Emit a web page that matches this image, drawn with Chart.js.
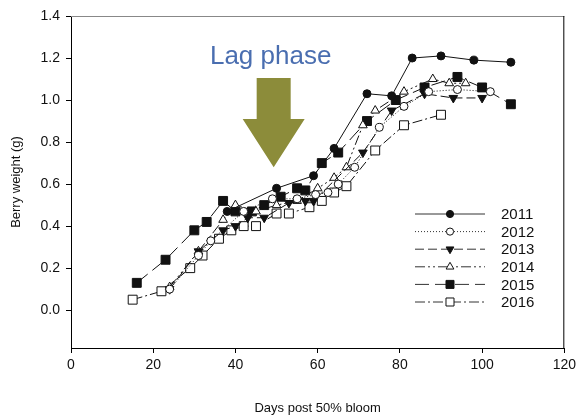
<!DOCTYPE html>
<html lang="en">
<head>
<meta charset="UTF-8">
<title>Berry weight</title>
<script src="https://cdn.jsdelivr.net/npm/chart.js@4.4.1/dist/chart.umd.min.js"></script>
<style>
  html, body { margin: 0; padding: 0; background: #fff; }
  #wrap { width: 580px; height: 420px; }
</style>
</head>
<body>
<div id="wrap"><canvas id="berryChart" width="580" height="420"></canvas></div>
<script>
// values (days post bloom, berry weight g)
const years = ['2011', '2012', '2013', '2014', '2015', '2016'];

const days2011 = [38, 50, 59, 64, 72, 78, 83, 90, 98, 107];
const wt2011   = [0.47, 0.58, 0.64, 0.77, 1.03, 1.02, 1.20, 1.21, 1.19, 1.18];

const days2012 = [24, 31, 34, 42, 49, 55, 59.5, 62.5, 65, 69, 75, 81, 87, 94, 102];
const wt2012   = [0.10, 0.26, 0.33, 0.47, 0.53, 0.53, 0.55, 0.56, 0.60, 0.68, 0.87, 0.97, 1.04, 1.05, 1.04];

const days2013 = [24, 31, 37, 40, 43, 47, 53, 57, 59, 71, 78, 86, 93, 100];
const wt2013   = [0.10, 0.28, 0.38, 0.40, 0.44, 0.44, 0.51, 0.52, 0.52, 0.75, 0.95, 1.03, 1.01, 1.01];

const days2014 = [24, 31, 37, 40, 45, 50, 55, 60, 64, 67, 71, 74, 81, 88, 92, 96];
const wt2014   = [0.11, 0.28, 0.43, 0.50, 0.47, 0.50, 0.52, 0.58, 0.63, 0.68, 0.88, 0.95, 1.04, 1.10, 1.08, 1.08];

const days2015 = [16, 23, 30, 33, 37, 40, 44, 47, 51, 55, 57, 61, 65, 72, 79, 86, 94, 100, 107];
const wt2015   = [0.13, 0.24, 0.38, 0.42, 0.52, 0.47, 0.47, 0.50, 0.54, 0.58, 0.57, 0.70, 0.75, 0.90, 1.00, 1.06, 1.11, 1.06, 0.98];

const days2016 = [15, 22, 29, 32, 36, 39, 42, 45, 50, 53, 58, 61, 64, 67, 74, 81, 90];
const wt2016   = [0.05, 0.09, 0.20, 0.26, 0.34, 0.38, 0.40, 0.40, 0.46, 0.46, 0.49, 0.52, 0.56, 0.59, 0.76, 0.88, 0.93];

const xTicks = [0, 20, 40, 60, 80, 100, 120];
const yTicks = [0, 0.2, 0.4, 0.6, 0.8, 1.0, 1.2, 1.4];

function pts(d, w) { return d.map((x, i) => ({ x: x, y: w[i] })); }

const ink = '#111';
const styles = [
  { dash: [],                  style: 'circle',   rot: 0,   fill: ink,    r: 4 },
  { dash: [1, 2],              style: 'circle',   rot: 0,   fill: '#fff', r: 4 },
  { dash: [9, 4],              style: 'triangle', rot: 180, fill: ink,    r: 5 },
  { dash: [10, 3, 2, 3, 2, 3], style: 'triangle', rot: 0,   fill: '#fff', r: 5 },
  { dash: [14, 6],             style: 'rect',     rot: 0,   fill: ink,    r: 6.3 },
  { dash: [10, 3, 2, 3],       style: 'rect',     rot: 0,   fill: '#fff', r: 6.3 }
];
const series = [pts(days2011, wt2011), pts(days2012, wt2012), pts(days2013, wt2013),
                pts(days2014, wt2014), pts(days2015, wt2015), pts(days2016, wt2016)];

const datasets = years.map((y, i) => ({
  label: y,
  data: series[i],
  borderColor: ink,
  borderWidth: 1,
  borderDash: styles[i].dash,
  pointStyle: styles[i].style,
  pointRotation: styles[i].rot,
  pointRadius: styles[i].r,
  pointBackgroundColor: styles[i].fill,
  pointBorderColor: ink,
  pointBorderWidth: 1,
  fill: false,
  tension: 0
}));

// frame, arrow annotation and legend
const extras = {
  id: 'extras',
  afterDraw(chart) {
    const ctx = chart.ctx;
    const a = chart.chartArea;
    const xs = chart.scales.x, ys = chart.scales.y;
    ctx.save();
    // top and right border
    ctx.lineWidth = 1;
    ctx.strokeStyle = '#888';
    ctx.beginPath(); ctx.moveTo(a.left, a.top + 0.5); ctx.lineTo(a.right, a.top + 0.5); ctx.stroke();
    ctx.strokeStyle = '#000';
    ctx.beginPath(); ctx.moveTo(a.right - 0.5, a.top); ctx.lineTo(a.right - 0.5, a.bottom); ctx.stroke();

    // lag phase arrow
    const cx = xs.getPixelForValue(49.3);
    const yTop = ys.getPixelForValue(1.105);
    const yNeck = ys.getPixelForValue(0.91);
    const yTip = ys.getPixelForValue(0.68);
    ctx.fillStyle = '#8c8c3a';
    ctx.beginPath();
    ctx.moveTo(cx - 17, yTop);
    ctx.lineTo(cx + 17, yTop);
    ctx.lineTo(cx + 17, yNeck);
    ctx.lineTo(cx + 31, yNeck);
    ctx.lineTo(cx, yTip);
    ctx.lineTo(cx - 31, yNeck);
    ctx.lineTo(cx - 17, yNeck);
    ctx.closePath();
    ctx.fill();
    ctx.fillStyle = '#4a6eb0';
    ctx.font = '26px "Liberation Sans", Arial, sans-serif';
    ctx.textAlign = 'center';
    ctx.textBaseline = 'middle';
    ctx.fillText('Lag phase', cx - 3, ys.getPixelForValue(1.205));

    // legend
    const lx0 = 415, lx1 = 485, ly0 = 214, step = 17.6;
    chart.data.datasets.forEach((ds, i) => {
      const yy = ly0 + i * step;
      ctx.strokeStyle = '#333';
      ctx.lineWidth = 1;
      ctx.setLineDash(ds.borderDash);
      ctx.beginPath(); ctx.moveTo(lx0, yy); ctx.lineTo(lx1, yy); ctx.stroke();
      ctx.setLineDash([]);
      ctx.fillStyle = ds.pointBackgroundColor;
      ctx.strokeStyle = ink;
      Chart.helpers.drawPoint(ctx, {
        pointStyle: ds.pointStyle,
        rotation: ds.pointRotation,
        radius: ds.pointRadius * 0.9,
        borderWidth: 1
      }, (lx0 + lx1) / 2, yy);
      ctx.fillStyle = '#111';
      ctx.font = '15px "Liberation Sans", Arial, sans-serif';
      ctx.textAlign = 'left';
      ctx.textBaseline = 'middle';
      ctx.fillText(ds.label, 501, yy + 1);
    });
    ctx.restore();
  }
};

const labelFont = { family: '"Liberation Sans", Arial, sans-serif', size: 14 };

new Chart(document.getElementById('berryChart'), {
  type: 'line',
  data: { datasets: datasets },
  options: {
    responsive: false,
    animation: false,
    layout: { padding: { top: 16, right: 12, left: 5, bottom: 0 } },
    plugins: { legend: { display: false }, tooltip: { enabled: false } },
    scales: {
      x: {
        type: 'linear',
        min: 0, max: 120,
        afterBuildTicks(s) { s.ticks = xTicks.map(v => ({ value: v })); },
        afterFit(s) { s.height = 72; },
        grid: { drawOnChartArea: false, drawTicks: true, tickLength: 5, color: '#000' },
        border: { display: true, color: '#000', width: 1 },
        ticks: { color: '#111', font: labelFont, padding: 4, maxRotation: 0 },
        title: { display: true, text: 'Days post 50% bloom', color: '#111',
                 font: { family: '"Liberation Sans", Arial, sans-serif', size: 13 }, padding: { top: 22 } }
      },
      y: {
        min: -0.18, max: 1.4,
        afterBuildTicks(s) { s.ticks = yTicks.map(v => ({ value: v })); },
        afterFit(s) { s.width = 66; },
        grid: { drawOnChartArea: false, drawTicks: true, tickLength: 5, color: '#000' },
        border: { display: true, color: '#000', width: 1 },
        ticks: { color: '#111', font: labelFont, padding: 6, callback: v => v.toFixed(1) },
        title: { display: true, text: 'Berry weight (g)', color: '#111',
                 font: { family: '"Liberation Sans", Arial, sans-serif', size: 13 }, padding: { bottom: 0 } }
      }
    }
  },
  plugins: [extras]
});
</script>
</body>
</html>
